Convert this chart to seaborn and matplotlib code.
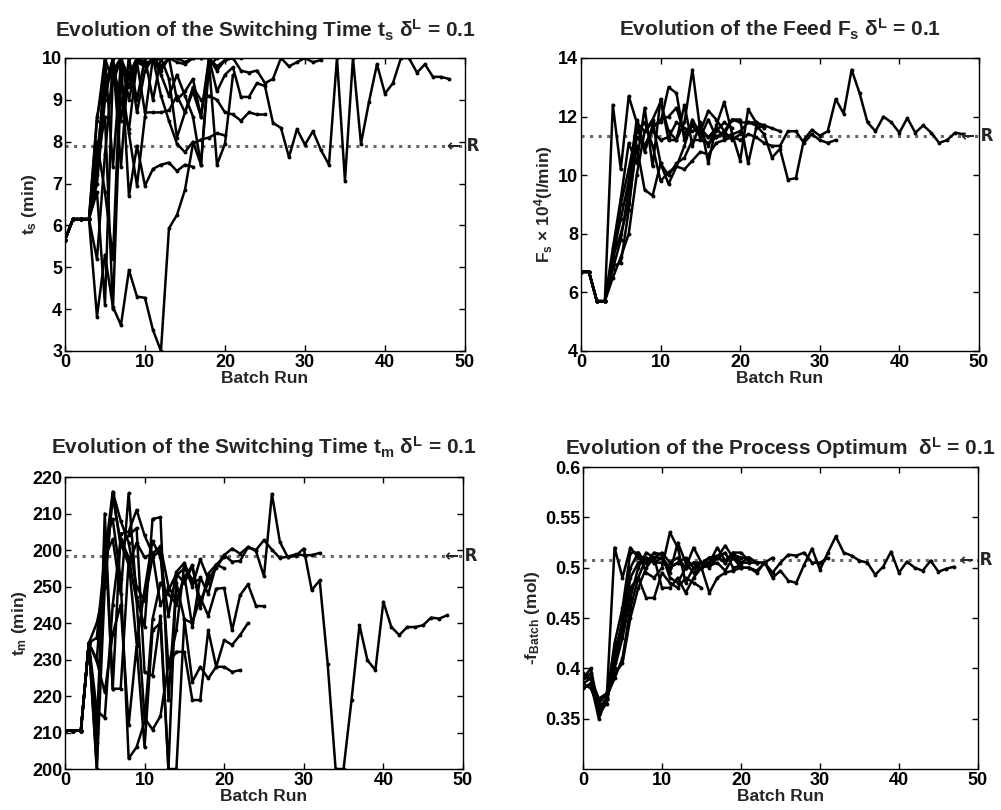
import seaborn as sns
import matplotlib.pyplot as plt
import pandas as pd
import numpy as np

# ---- switching time t_s ----
ts_start = [5.65, 6.15, 6.15, 6.15]
ts_runs = [
    [8.6, 9.5, 9.6, 10, 9.0, 9.9, 9.8, 10, 9.7, 10, 9.0, 9.2, 9.5, 8.6, 10, 9.2, 9.6, 9.78, 9.07, 9.07,
     9.4, 9.33, 8.45, 8.33, 7.63, 8.3, 7.93, 8.25, 7.8, 7.45, 10, 7.07, 10, 7.95, 8.95, 9.85, 9.15, 9.4,
     10, 10, 9.65, 9.85, 9.55, 9.55, 9.5],
    [7.2, 10, 9.4, 10, 9.5, 10, 9.8, 10, 9.8, 10, 10, 9.9, 10, 10, 10, 9.8, 9.95, 10, 9.7, 9.65, 9.7,
     9.4, 9.5, 10, 9.8, 9.9, 10, 9.9, 9.95],
    [5.2, 7.7, 9.8, 9.0, 8.3, 9.9, 8.7, 8.7, 8.7, 8.75, 9.1, 8.7, 9.3, 9.0, 9.1, 9.0, 8.7, 8.65, 8.5,
     8.7, 8.65, 8.65],
    [7.7, 9.3, 10, 8.5, 10, 8.7, 9.7, 10, 9.1, 8.5, 7.95, 7.75, 8.0, 7.45, 10, 9.7, 9.95, 10, 10],
    [3.82, 5.3, 4.05, 3.62, 4.93, 4.3, 4.27, 3.5, 3.0, 5.93, 6.25, 6.85, 7.95, 8.05, 8.1, 8.2, 8.15],
    [6.8, 4.1, 9.7, 10, 6.7, 7.9, 6.95, 7.35, 7.45, 7.5, 7.3, 7.45, 7.4],
    [8.0, 6.8, 5.2, 10, 9.3, 10, 9.9, 9.9, 10, 9.5, 8.1, 8.7, 9.2, 8.6, 9.9, 7.45, 7.95, 9.6],
    [7.5, 8.6, 4.0, 9.5, 8.2, 6.95, 8.6, 10, 10, 10, 9.9, 9.85, 10, 10, 10],
    [8.5, 10, 7.4, 9.9, 9.6, 10, 10, 10, 9.6, 9.1, 9.6, 9.1, 8.6, 7.45, 9.8, 10],
    [7.0, 9.0, 10, 7.4, 10, 9.0, 10, 9.0, 10, 10, 10],
]
ts_ref = 7.9

# ---- feed F_s ----
fs_start = [6.7, 6.7, 5.7, 5.7]
fs_runs = [
    [7.0, 9.0, 10.2, 11.6, 11.0, 11.5, 11.2, 11.3, 11.8, 11.6, 11.5, 11.6, 11.3, 11.6, 11.3, 11.4, 11.5,
     11.8, 11.7, 11.4, 10.6, 10.9, 9.85, 9.9, 11.2, 11.55, 11.35, 11.5, 12.6, 12.1, 13.6, 12.8, 11.8,
     11.5, 12.0, 11.8, 11.45, 11.95, 11.45, 11.7, 11.45, 11.1, 11.2, 11.45, 11.4],
    [6.5, 7.2, 8.0, 10.0, 11.5, 11.8, 10.4, 9.7, 10.3, 10.2, 10.5, 10.8, 10.7, 11.1, 11.2, 11.3, 11.2,
     11.4, 11.3, 11.1, 11.0, 11.0, 11.5, 11.5, 11.1, 11.4, 11.2, 11.1, 11.2],
    [12.4, 10.2, 12.7, 11.8, 11.5, 11.9, 12.5, 11.5, 11.2, 11.8, 13.6, 11.5, 12.2, 11.9, 11.5, 11.9,
     11.8, 11.8, 11.8, 11.7],
    [7.5, 9.2, 11.1, 10.4, 12.3, 10.3, 12.6, 11.2, 11.2, 12.4, 11.0, 11.8, 10.4, 11.7, 12.5, 11.4, 10.5,
     12.25, 11.8, 11.6],
    [7.3, 8.5, 9.8, 11.9, 10.8, 11.7, 11.8, 13.0, 12.8, 11.2, 11.7, 11.3, 11.9, 11.3, 11.4, 11.9, 11.9,
     10.4, 11.6, 11.7, 11.6, 11.5],
    [7.2, 8.0, 9.0, 11.0, 9.5, 9.3, 10.4, 10.0, 10.4, 10.6, 11.2, 11.2, 11.1, 11.3, 11.5, 11.2, 11.4],
    [6.8, 7.8, 9.5, 11.5, 11.8, 11.0, 9.8, 10.1, 10.3, 11.0, 11.9, 11.4, 11.3, 11.5, 11.8, 11.6],
    [6.9, 7.0, 8.8, 11.3, 11.0, 11.6, 11.9, 12.0, 12.3, 11.4, 11.8, 11.5, 11.0, 11.6],
]
fs_ref = 11.35

# ---- switching time t_m (axis runs 200..280, labels as printed) ----
tm_start = [210.5, 210.5, 210.5, 234.5]
tm_runs = [
    [240, 250, 275, 262, 256, 262, 258, 259, 245, 249, 253.5, 251, 255.5, 246, 251, 255.5, 258.6, 256.8,
     257, 260.8, 259.7, 252.8, 275.4, 262.2, 258, 258.4, 260.4, 249, 251.7, 228.9, 200, 200, 218.9,
     239.4, 229.8, 227.1, 245.8, 238.9, 236.7, 238.9, 238.9, 239.4, 241.5, 241.2, 242.1],
    [236, 258, 276, 268, 262, 250, 246, 258, 260, 228, 238, 256, 250, 257.5, 252, 255, 258.6, 260.4,
     259, 260.8, 260, 262.7, 260.1, 257.8, 258.2, 258.8, 258.6, 258.6, 259.2],
    [230, 258, 263, 248, 275.5, 247, 239, 268.5, 269, 219, 251, 241, 240, 247, 242, 249.4, 249.6, 238,
     247.6, 250.6, 244.7, 244.6],
    [216, 214, 245, 263, 258, 246, 214, 210.8, 214.5, 228.9, 232.1, 232.1, 218.9, 218.9, 238, 228,
     235.3, 234, 236.7, 240],
    [229.5, 221, 237, 245, 212, 233.8, 206, 238, 240, 200, 200, 241, 223.9, 228, 224.8, 228, 228, 226.6,
     227.1],
    [207, 262, 268.5, 252, 202.9, 206, 213, 241, 251, 248, 245, 253, 239, 252.5, 248, 256, 258],
    [200, 270, 222, 264.5, 265, 271, 264, 259, 261, 250, 246, 252.5, 255.8, 244, 253.5, 256, 255],
    [200, 250, 275.5, 261, 264, 266, 226.5, 225.6, 242, 200, 253, 255, 252],
    [210, 265, 222, 222, 257, 234.5, 249, 262.5, 258, 242, 254, 256.5, 251, 252],
]
tm_ref = 258.4
tm_ticks = [200, 210, 220, 230, 240, 250, 260, 270, 280]
tm_ticklabels = ["200", "210", "220", "230", "240", "250", "200", "210", "220"]

# ---- process optimum -f_Batch ----
fb_runs = [
    [0.385, 0.39, 0.355, 0.372, 0.39, 0.41, 0.46, 0.49, 0.51, 0.505, 0.505, 0.5, 0.505, 0.5, 0.505, 0.5,
     0.502, 0.505, 0.497, 0.51, 0.5, 0.5, 0.497, 0.505, 0.49, 0.497, 0.487, 0.485, 0.503, 0.519, 0.498,
     0.515, 0.531, 0.515, 0.512, 0.507, 0.505, 0.493, 0.501, 0.516, 0.495, 0.506, 0.5, 0.497, 0.507,
     0.496, 0.499, 0.501],
    [0.39, 0.395, 0.36, 0.37, 0.40, 0.43, 0.47, 0.5, 0.515, 0.51, 0.515, 0.505, 0.51, 0.5, 0.505, 0.505,
     0.51, 0.512, 0.505, 0.513, 0.51, 0.51, 0.505, 0.505, 0.495, 0.505, 0.513, 0.512, 0.515, 0.505,
     0.505, 0.51],
    [0.38, 0.385, 0.35, 0.37, 0.52, 0.49, 0.52, 0.51, 0.505, 0.515, 0.513, 0.49, 0.485, 0.50, 0.52, 0.505,
     0.505, 0.52, 0.507, 0.515, 0.505, 0.505, 0.505, 0.505, 0.51],
    [0.39, 0.39, 0.365, 0.375, 0.42, 0.44, 0.48, 0.49, 0.47, 0.47, 0.495, 0.485, 0.48, 0.49, 0.485, 0.48],
    [0.385, 0.38, 0.36, 0.37, 0.395, 0.405, 0.45, 0.48, 0.5, 0.51, 0.48, 0.48, 0.49, 0.475, 0.49, 0.5,
     0.475, 0.49, 0.495, 0.497, 0.5, 0.5, 0.495, 0.505],
    [0.39, 0.4, 0.36, 0.37, 0.425, 0.46, 0.515, 0.515, 0.495, 0.49, 0.5, 0.535, 0.52, 0.485, 0.5, 0.5,
     0.51, 0.51, 0.522, 0.51, 0.505, 0.51, 0.505],
    [0.38, 0.385, 0.355, 0.365, 0.41, 0.45, 0.5, 0.515, 0.505, 0.51, 0.51, 0.495, 0.525, 0.505, 0.495,
     0.5, 0.505, 0.51, 0.505, 0.515, 0.515, 0.507],
    [0.395, 0.39, 0.37, 0.375, 0.405, 0.44, 0.49, 0.505, 0.51, 0.505, 0.51, 0.5, 0.505, 0.51, 0.5, 0.505,
     0.5, 0.51, 0.515, 0.5, 0.502],
]
fb_ref = 0.5077


def to_frame(runs, start=None):
    rows = []
    for k, r in enumerate(runs):
        vals = (start or []) + r
        for i, v in enumerate(vals):
            rows.append((k, i, v))
    return pd.DataFrame(rows, columns=["trial", "run", "value"])


sns.set_style("ticks")
plt.rcParams["font.family"] = ["Liberation Sans", "DejaVu Sans"]
plt.rcParams["font.weight"] = "bold"
plt.rcParams["axes.labelweight"] = "bold"
plt.rcParams["axes.titleweight"] = "bold"
plt.rcParams["mathtext.fontset"] = "custom"
plt.rcParams["mathtext.rm"] = "Liberation Sans:bold"
plt.rcParams["mathtext.it"] = "Liberation Sans:bold"
plt.rcParams["mathtext.bf"] = "Liberation Sans:bold"
plt.rcParams["mathtext.default"] = "rm"

fig = plt.figure(figsize=(10.01, 8.10), dpi=100)
ax1 = fig.add_axes([0.0649, 0.5667, 0.3996, 0.3617])
ax2 = fig.add_axes([0.5804, 0.5667, 0.3976, 0.3617])
ax3 = fig.add_axes([0.0649, 0.0506, 0.3976, 0.3605])
ax4 = fig.add_axes([0.5824, 0.0506, 0.3946, 0.3728])

panels = [
    (ax1, to_frame(ts_runs, ts_start), ts_ref, (3, 10),
     r"Evolution of the Switching Time t$_s$ $\delta^L$ = 0.1", r"t$_s$ (min)", 15),
    (ax2, to_frame(fs_runs, fs_start), fs_ref, (4, 14),
     r"Evolution of the Feed F$_s$ $\delta^L$ = 0.1", r"F$_s$ × 10$^4$(l/min)", 15.5),
    (ax3, to_frame(tm_runs, tm_start), tm_ref, (200, 280),
     r"Evolution of the Switching Time t$_m$ $\delta^L$ = 0.1", r"t$_m$ (min)", 17),
    (ax4, to_frame(fb_runs), fb_ref, (0.3, 0.6),
     r"Evolution of the Process Optimum  $\delta^L$ = 0.1", r"-f$_{Batch}$ (mol)", 9),
]

for ax, df, ref, ylim, title, ylab, tpad in panels:
    sns.lineplot(data=df, x="run", y="value", units="trial", estimator=None, sort=False,
                 color="black", lw=1.8, marker="o", markersize=2.8, markeredgewidth=0,
                 legend=False, ax=ax)
    ax.axhline(ref, color="#666666", lw=2.2, ls=(0, (1, 1.8)), zorder=1)
    ax.text(47.7, ref, "← R", va="center", ha="left", fontsize=12, fontweight="bold",
            family="DejaVu Sans", clip_on=False)
    ax.set_xlim(0, 50)
    ax.set_ylim(*ylim)
    ax.set_xticks([0, 10, 20, 30, 40, 50])
    ax.set_title(title, fontsize=15, fontweight="bold", pad=tpad)
    ax.set_xlabel("Batch Run", fontsize=12.5, labelpad=0)
    ax.set_ylabel(ylab, fontsize=12.5, labelpad=2)
    ax.tick_params(direction="in", top=True, right=True, length=4, width=1,
                   labelsize=13, pad=2, colors="black")
    for s in ax.spines.values():
        s.set_color("black")
        s.set_linewidth(1)

ax1.set_yticks(range(3, 11))
ax2.set_yticks(range(4, 15, 2))
ax3.set_yticks(tm_ticks)
ax3.set_yticklabels(tm_ticklabels)
ax4.set_yticks([0.35, 0.4, 0.45, 0.5, 0.55, 0.6])
ax4.set_yticklabels(["0.35", "0.4", "0.45", "0.5", "0.55", "0.6"])

fig.savefig("out.png", dpi=100)
